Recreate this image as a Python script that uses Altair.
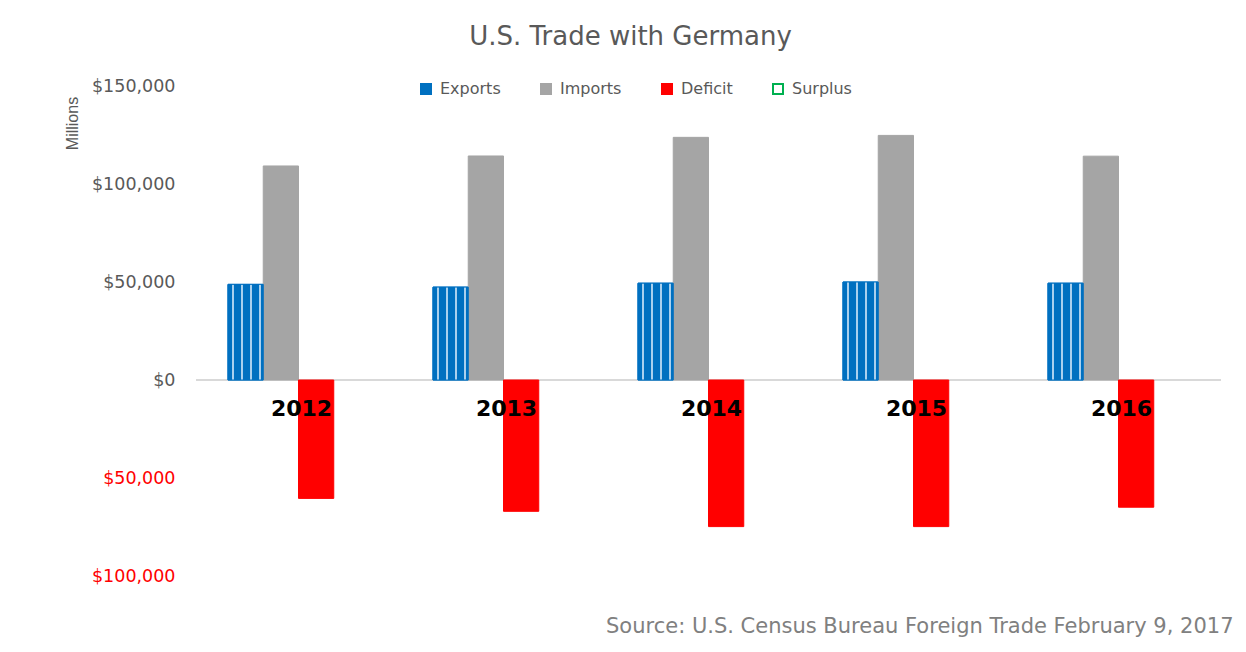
import altair as alt
import pandas as pd

years = ["2012", "2013", "2014", "2015", "2016"]
exports = [48800, 47400, 49400, 50000, 49400]
imports = [109200, 114300, 123800, 124800, 114200]
deficit = [-60400, -67000, -74800, -74800, -64900]
series = ["Exports", "Imports", "Deficit", "Surplus"]
y_ticks = [-100000, -50000, 0, 50000, 100000, 150000]

rows = []
for i, yr in enumerate(years):
    rows.append({"year": yr, "series": "Exports", "value": exports[i]})
    rows.append({"year": yr, "series": "Imports", "value": imports[i]})
    rows.append({"year": yr, "series": "Deficit", "value": deficit[i]})
df = pd.DataFrame(rows)
df_years = pd.DataFrame({"year": years})

FONT = "DejaVu Sans"
BLUE = "#0070C0"
GREY = "#A5A5A5"
RED = "#FF0000"
GREEN = "#00B050"

x_enc = alt.X(
    "year:N",
    sort=years,
    scale=alt.Scale(paddingInner=0.312, paddingOuter=0.156),
    axis=alt.Axis(
        labels=False, ticks=False, domain=False, grid=False,
        title="Source: U.S. Census Bureau Foreign Trade February 9, 2017",
        titleFont=FONT, titleFontSize=21, titleFontWeight="normal",
        titleColor="#808080", titleAlign="right", titleBaseline="middle",
        titleX=1037, titleY=50,
    ),
)
y_enc = alt.Y(
    "value:Q",
    scale=alt.Scale(domain=[-100000, 150000], nice=False),
    axis=alt.Axis(
        values=y_ticks, grid=False, domain=False, ticks=False,
        labelExpr="'$' + format(abs(datum.value), ',')",
        labelColor=alt.ExprRef(expr="datum.value < 0 ? '#FF0000' : '#595959'"),
        labelFont=FONT, labelFontSize=17.5, labelPadding=21,
        title="Millions", titleFont="Liberation Sans", titleFontSize=16,
        titleFontWeight="normal", titleColor="#595959", titleAngle=-90,
        titleAlign="center", titleBaseline="middle", titleX=-124, titleY=37,
    ),
)
xoff = alt.XOffset("series:N", sort=series, scale=alt.Scale(domain=series, paddingInner=0, paddingOuter=0))

zero = alt.Chart(df_years).mark_rule(color="#D9D9D9", strokeWidth=1.5).encode(y=alt.datum(0))

leg = dict(
    title=None, orient="none", direction="horizontal",
    legendX=222, legendY=-5, symbolType="square", symbolSize=100,
    symbolStrokeWidth=2, labelFont=FONT, labelFontSize=16,
    labelColor="#595959", labelOffset=6, columnPadding=36,
)

bars = alt.Chart(df).mark_bar(strokeWidth=1).encode(
    x=x_enc,
    y=y_enc,
    xOffset=xoff,
    fill=alt.Fill(
        "series:N",
        scale=alt.Scale(domain=series, range=[BLUE, GREY, RED, "#FFFFFF"]),
        legend=alt.Legend(**leg),
    ),
    stroke=alt.Stroke(
        "series:N",
        scale=alt.Scale(domain=series, range=[BLUE, GREY, RED, GREEN]),
        legend=alt.Legend(**leg),
    ),
)

stripe = "#A9D0EE"
stops = [
    (0.0, BLUE), (0.12, BLUE), (0.12, stripe), (0.16, stripe), (0.16, BLUE),
    (0.38, BLUE), (0.38, stripe), (0.42, stripe), (0.42, BLUE),
    (0.63, BLUE), (0.63, stripe), (0.67, stripe), (0.67, BLUE),
    (0.89, BLUE), (0.89, stripe), (0.93, stripe), (0.93, BLUE), (1.0, BLUE),
]
grad = alt.LinearGradient(
    gradient="linear", x1=0, x2=1, y1=0, y2=0,
    stops=[alt.GradientStop(offset=o, color=c) for o, c in stops],
)
export_pattern = alt.Chart(df).transform_filter(
    alt.datum.series == "Exports"
).mark_bar(fill=grad, stroke=BLUE, strokeWidth=1).encode(
    x=alt.X("year:N", sort=years),
    y="value:Q",
    xOffset=alt.XOffset("series:N", sort=series),
)

year_labels = alt.Chart(df_years).mark_text(
    font=FONT, fontSize=22, fontWeight="bold", color="#000000",
    baseline="middle", align="center", dy=29, dx=3,
).encode(x=alt.X("year:N", sort=years), y=alt.datum(0), text="year:N")

chart = alt.layer(zero, bars, export_pattern, year_labels).properties(
    width=1025,
    height=490,
    autosize=alt.AutoSizeParams(type="none"),
    padding={"left": 188, "top": 78, "right": 16, "bottom": 66},
    title=alt.TitleParams(
        "U.S. Trade with Germany", font=FONT, fontSize=26,
        fontWeight="normal", color="#595959", anchor="middle",
        frame="group", dx=-78, offset=27,
    ),
).configure(
    background="white",
    view=alt.ViewConfig(strokeWidth=0, stroke="transparent"),
)

chart.save("out.html", embed_options={"renderer": "svg", "actions": False})
